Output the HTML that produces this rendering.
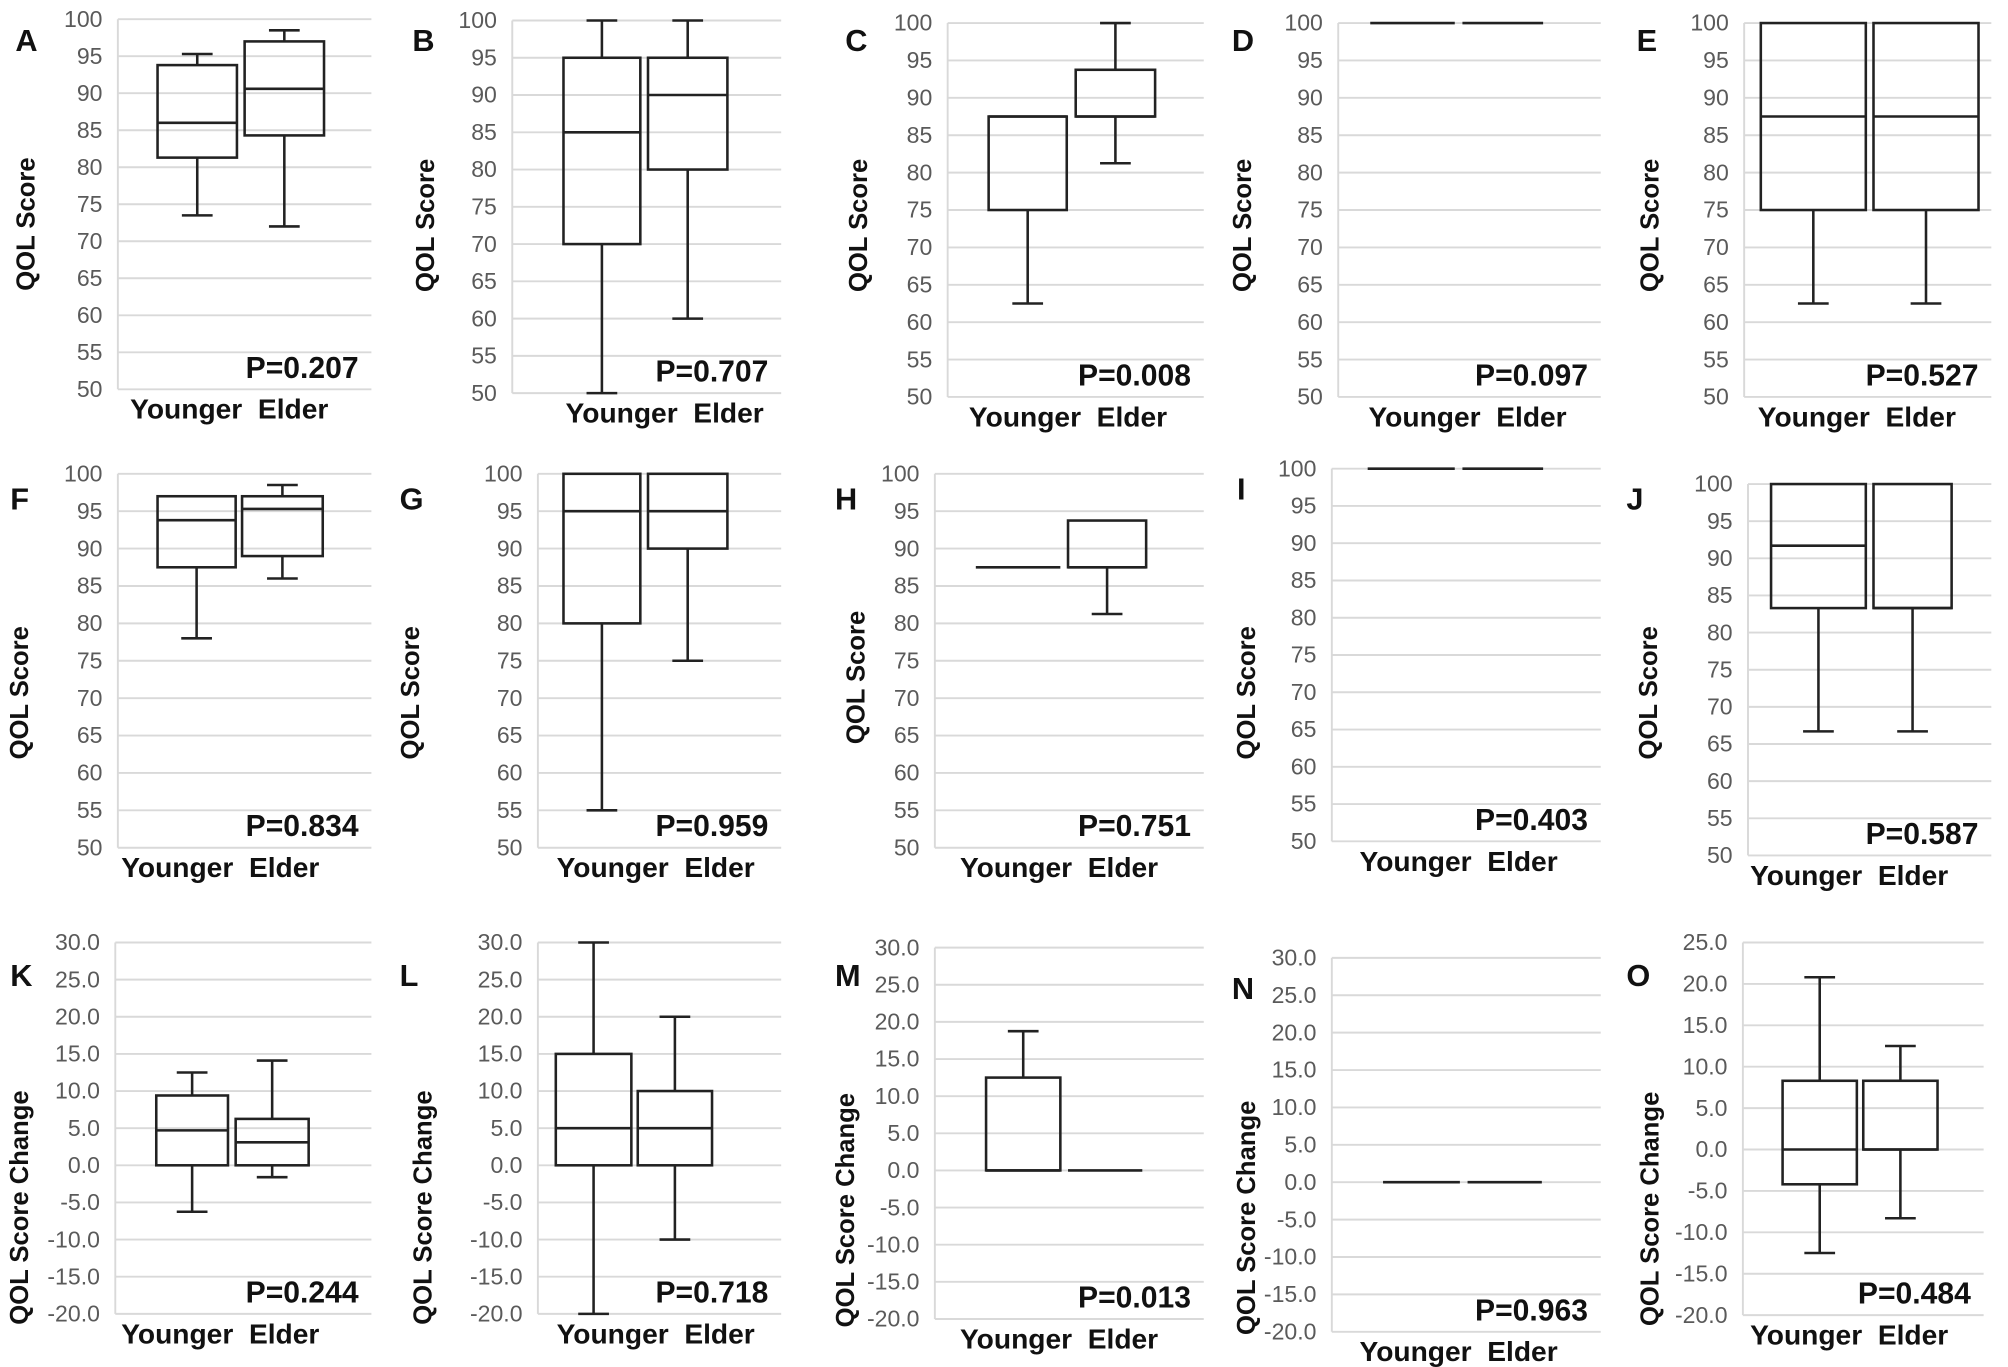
<!DOCTYPE html>
<html><head><meta charset="utf-8"><style>
html,body{margin:0;padding:0;background:#fff;}
svg{display:block;}
text{font-family:"Liberation Sans",Arial,sans-serif;}
.tk{fill:#5a5a5a;font-size:18px;}
.bold{font-weight:bold;fill:#111;}
</style></head><body>
<svg id="fig" width="2008" height="1367" viewBox="0 0 1568 1067.5" xmlns="http://www.w3.org/2000/svg"></svg>
<script>
// Data: [min, q1, median, q3, max] for Younger and Elder per panel
const panelLabels = ["A","B","C","D","E","F","G","H","I","J","K","L","M","N","O"];
const pValues = ["P=0.207","P=0.707","P=0.008","P=0.097","P=0.527","P=0.834","P=0.959","P=0.751","P=0.403","P=0.587","P=0.244","P=0.718","P=0.013","P=0.963","P=0.484"];
const youngerStats = [
 [73.5,81.3,86,93.8,95.3],[50,70,85,95,100],[62.5,75,87.5,87.5,87.5],[100,100,100,100,100],[62.5,75,87.5,100,100],
 [78,87.5,93.8,97,97],[55,80,95,100,100],[87.5,87.5,87.5,87.5,87.5],[100,100,100,100,100],[66.7,83.3,91.7,100,100],
 [-6.25,0,4.7,9.4,12.5],[-20,0,5,15,30],[0,0,0,12.5,18.75],[0,0,0,0,0],[-12.5,-4.2,0,8.3,20.8]];
const elderStats = [
 [72,84.3,90.6,97,98.5],[60,80,90,95,100],[81.25,87.5,87.5,93.75,100],[100,100,100,100,100],[62.5,75,87.5,100,100],
 [86,89,95.3,97,98.5],[75,90,95,100,100],[81.25,87.5,87.5,93.75,93.75],[100,100,100,100,100],[66.7,83.3,83.3,100,100],
 [-1.6,0,3.1,6.25,14.1],[-10,0,5,10,20],[0,0,0,0,0],[0,0,0,0,0],[-8.3,0,0,8.3,12.5]];
const yMinArr = [50,50,50,50,50,50,50,50,50,50,-20,-20,-20,-20,-20];
const yMaxArr = [100,100,100,100,100,100,100,100,100,100,30,30,30,30,25];
const yStep = 5;
const yTitles = ["QOL Score","QOL Score","QOL Score","QOL Score","QOL Score","QOL Score","QOL Score","QOL Score","QOL Score","QOL Score","QOL Score Change","QOL Score Change","QOL Score Change","QOL Score Change","QOL Score Change"];

// layout (shown-image coordinates)
const geo = [
 {l:92,r:290,t:15,b:304,ty:[123,185],te:[191,253],lx:12,ly:40,tx:20,xc:179,tc:175},
 {l:400,r:610,t:16,b:307,ty:[440,500],te:[506,568],lx:322,ly:40,tx:332,xc:519,tc:176},
 {l:740,r:940,t:18,b:310,ty:[772,833],te:[840,902],lx:660,ly:40,tx:670,xc:834,tc:176},
 {l:1045,r:1250,t:18,b:310,ty:[1070,1136],te:[1142,1205],lx:962,ly:40,tx:970,xc:1146,tc:176},
 {l:1362,r:1555,t:18,b:310,ty:[1375,1457],te:[1463,1545],lx:1278,ly:40,tx:1288,xc:1450,tc:176},
 {l:92,r:290,t:370,b:662,ty:[123,184],te:[189,252],lx:8,ly:398,tx:15,xc:172,tc:541},
 {l:420,r:610,t:370,b:662,ty:[440,500],te:[506,568],lx:312,ly:398,tx:320,xc:512,tc:541},
 {l:730,r:940,t:370,b:662,ty:[762,828],te:[834,895],lx:652,ly:398,tx:668,xc:827,tc:529},
 {l:1040,r:1250,t:366,b:657,ty:[1068,1136],te:[1142,1205],lx:966,ly:390,tx:973,xc:1139,tc:541},
 {l:1365,r:1555,t:378,b:668,ty:[1383,1457],te:[1463,1524],lx:1270,ly:398,tx:1287,xc:1444,tc:541},
 {l:90,r:290,t:736,b:1026,ty:[122,178],te:[184,241],lx:8,ly:770,tx:15,xc:172,tc:943},
 {l:420,r:610,t:736,b:1026,ty:[434,493],te:[498,556],lx:312,ly:770,tx:330,xc:512,tc:943},
 {l:730,r:940,t:740,b:1030,ty:[770,828],te:[834,892],lx:652,ly:770,tx:660,xc:827,tc:945},
 {l:1040,r:1250,t:748,b:1040,ty:[1080,1140],te:[1146,1204],lx:962,ly:780,tx:973,xc:1139,tc:951},
 {l:1361,r:1549,t:736,b:1027,ty:[1392,1450],te:[1455,1513],lx:1270,ly:770,tx:1288,xc:1444,tc:944}
];
const NS="http://www.w3.org/2000/svg";
const svg=document.getElementById('fig');
function mk(tag,attrs,parent){const e=document.createElementNS(NS,tag);for(const k in attrs)e.setAttribute(k,attrs[k]);(parent||svg).appendChild(e);return e;}

panelLabels.forEach((lab,i)=>{
  const g=geo[i], y0=yMinArr[i], y1=yMaxArr[i];
  const yS=v=>g.b-(v-y0)/(y1-y0)*(g.b-g.t);
  const grp=mk('g',{});
  
  
  const dec = i>=10;
  for(let v=y0; v<=y1+1e-9; v+=yStep){
    const y=yS(v);
    const gl=mk('line',{x1:g.l,x2:g.r,y1:y,y2:y,stroke:'#d9d9d9','stroke-width':1.5},grp);
    
    
    const t=mk('text',{x:g.l-12,y:y+6,'text-anchor':'end',class:'tk'},grp);
    t.textContent= dec? v.toFixed(1): String(v);
    
    
  }
  const ax=mk('line',{x1:g.l,x2:g.l,y1:g.t,y2:g.b,stroke:'#d9d9d9','stroke-width':1.5},grp);
  
  
  const L=mk('text',{x:g.lx,y:g.ly,class:'bold','font-size':24},grp);
  L.textContent=lab;
  
  
  const cy=g.tc;
  const yt=mk('text',{x:g.tx,y:cy,class:'bold','font-size':20,'text-anchor':'middle',transform:`rotate(-90 ${g.tx} ${cy})`,dy:7},grp);
  yt.textContent=yTitles[i];
  
  
  [[youngerStats[i],g.ty,'younger'],[elderStats[i],g.te,'elder']].forEach(([s,xr,nm])=>{
    const bg=mk('g',{stroke:'#222','stroke-width':2,fill:'none'},grp);
    
    
    const xm=(xr[0]+xr[1])/2, cw=12;
    if(s[0]<s[1]){mk('line',{x1:xm,x2:xm,y1:yS(s[0]),y2:yS(s[1])},bg);mk('line',{x1:xm-cw,x2:xm+cw,y1:yS(s[0]),y2:yS(s[0])},bg);}
    if(s[4]>s[3]){mk('line',{x1:xm,x2:xm,y1:yS(s[4]),y2:yS(s[3])},bg);mk('line',{x1:xm-cw,x2:xm+cw,y1:yS(s[4]),y2:yS(s[4])},bg);}
    if(s[3]>s[1]) mk('rect',{x:xr[0],y:yS(s[3]),width:xr[1]-xr[0],height:yS(s[1])-yS(s[3])},bg);
    mk('line',{x1:xr[0],x2:xr[1],y1:yS(s[2]),y2:yS(s[2])},bg);
  });
  const p=mk('text',{x:g.r-10,y:g.b-9,class:'bold','font-size':23.5,'text-anchor':'end'},grp);
  p.textContent=pValues[i];
  
  
  const xl=mk('text',{x:g.xc,y:g.b+23,class:'bold','font-size':22,'text-anchor':'middle'},grp);
  xl.textContent='Younger  Elder';
  xl.style.whiteSpace='pre';
  
  
});
</script>
</body></html>
